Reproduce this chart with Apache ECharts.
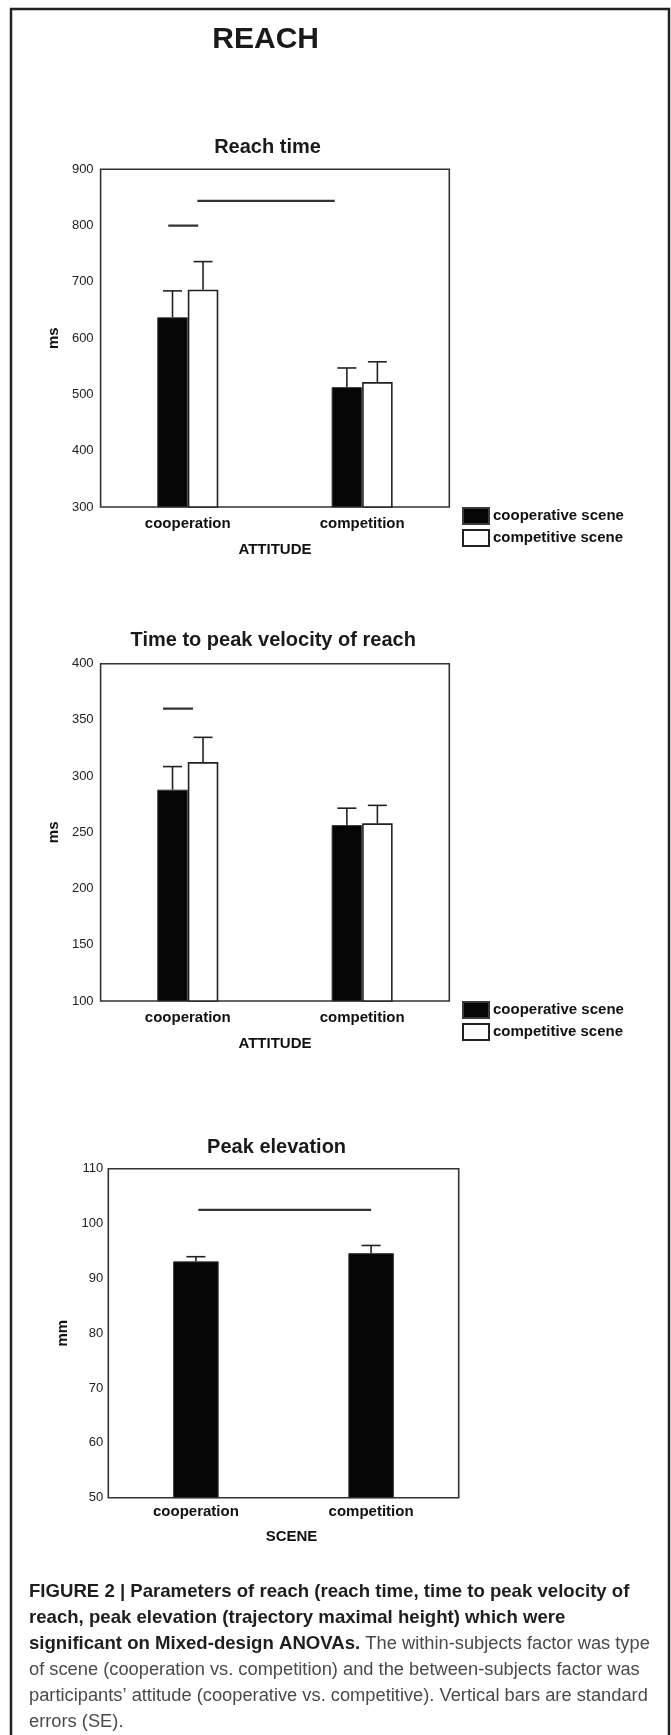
<!DOCTYPE html>
<html>
<head>
<meta charset="utf-8">
<script src="https://cdn.jsdelivr.net/npm/echarts@6/dist/echarts.min.js"></script>
<style>
html,body{margin:0;padding:0;background:#fff;}
#chart{width:671px;height:1735px;}
</style>
</head>
<body>
<div id="chart"></div>
<script>
// ---------------- data ----------------
const attitudeCategories = ['cooperation', 'competition'];
const sceneCategories = ['cooperation', 'competition'];
const seriesNames = ['cooperative scene', 'competitive scene'];

// Reach time (ms)
const reachCoopScene = [637, 513];
const reachCompScene = [686, 522];
const reachCoopSE = [47, 34];
const reachCompSE = [50, 36];
const reachTicks = { min: 300, max: 900, interval: 100 };
// significance lines: [fromCategoryPos, toCategoryPos, yValue]
const reachSig = [[-0.112, 0.060, 800], [0.055, 0.843, 844]];

// Time to peak velocity of reach (ms)
const velCoopScene = [288, 256.5];
const velCompScene = [312.5, 258];
const velCoopSE = [20.5, 15];
const velCompSE = [22, 16];
const velTicks = { min: 100, max: 400, interval: 50 };
const velSig = [[-0.142, 0.030, 360]];

// Peak elevation (mm)
const elevValues = [93.1, 94.6];
const elevSE = [0.85, 1.4];
const elevTicks = { min: 50, max: 110, interval: 10 };
const elevSig = [[0.014, 1.0, 102.5]];

const titles = ['Reach time', 'Time to peak velocity of reach', 'Peak elevation'];
const mainTitle = 'REACH';
const captionLines = [
  [['b', 'FIGURE 2 | Parameters of reach (reach time, time to peak velocity of']],
  [['b', 'reach, peak elevation (trajectory maximal height) which were']],
  [['b', 'significant on Mixed-design ANOVAs.'], ['n', ' The within-subjects factor was type']],
  [['n', 'of scene (cooperation vs. competition) and the between-subjects factor was']],
  [['n', 'participants\u2019 attitude (cooperative vs. competitive). Vertical bars are standard']],
  [['n', 'errors (SE).']]
];

// ---------------- layout / style ----------------
const FONT = '"Liberation Sans", Arial, Helvetica, sans-serif';
const grids = [
  { left: 100.6, top: 169.3, width: 348.7, height: 337.7 },
  { left: 100.6, top: 663.7, width: 348.7, height: 337.3 },
  { left: 108.3, top: 1168.7, width: 350.4, height: 329 }
];

const blackStyle = { color: '#050505', borderColor: '#3a3a3a', borderWidth: 1 };
const whiteStyle = { color: '#ffffff', borderColor: '#222222', borderWidth: 1.6 };

function errRender(slot, nBars, gap) {
  return function (params, api) {
    const i = api.value(0), v = api.value(1), e = api.value(2);
    const band = api.size([1, 0])[0];
    const bw = band * (1 - gap) / nBars;
    const c = api.coord([i, v]);
    const t = api.coord([i, v + e]);
    const x = c[0] - (nBars * bw) / 2 + bw * (slot + 0.5);
    const st = { stroke: '#222', lineWidth: 1.6 };
    return {
      type: 'group',
      children: [
        { type: 'line', shape: { x1: x, y1: c[1], x2: x, y2: t[1] }, style: st },
        { type: 'line', shape: { x1: x - 9.5, y1: t[1], x2: x + 9.5, y2: t[1] }, style: st }
      ]
    };
  };
}

function catAxis(gi, cats, nameText, nameGap, labelMargin, namePad) {
  return {
    type: 'category', gridIndex: gi, data: cats,
    axisLine: { show: false }, axisTick: { show: false },
    axisLabel: { fontFamily: FONT, fontWeight: 'bold', fontSize: 15, color: '#111', margin: labelMargin },
    name: nameText, nameLocation: 'middle', nameGap: nameGap,
    nameTextStyle: { fontFamily: FONT, fontWeight: 'bold', fontSize: 15, color: '#111', padding: namePad || 0 }
  };
}
function valAxis(gi, t, nameText, nameGap, labelMargin) {
  return {
    type: 'value', gridIndex: gi, min: t.min, max: t.max, interval: t.interval,
    axisLine: { show: false }, axisTick: { show: false }, splitLine: { show: false },
    axisLabel: { fontFamily: FONT, fontSize: 13, color: '#222', margin: labelMargin },
    name: nameText, nameLocation: 'middle', nameGap: nameGap,
    nameTextStyle: { fontFamily: FONT, fontWeight: 'bold', fontSize: 15, color: '#111' }
  };
}
function hiddenX(gi) {
  return { type: 'value', gridIndex: gi, min: -0.5, max: 1.5, show: false };
}
function sigSeries(list, xi, yi) {
  return list.map(s => ({
    type: 'line', xAxisIndex: xi, yAxisIndex: yi, symbol: 'none', silent: true,
    data: [[s[0], s[2]], [s[1], s[2]]],
    lineStyle: { color: '#333', width: 2.2 }, z: 4
  }));
}
function barPair(xi, yi, a, b, aSE, bSE, gap) {
  return [
    { type: 'bar', name: seriesNames[0], xAxisIndex: xi, yAxisIndex: yi, data: a,
      barGap: '0%', barCategoryGap: (gap * 100) + '%', itemStyle: blackStyle },
    { type: 'bar', name: seriesNames[1], xAxisIndex: xi, yAxisIndex: yi, data: b,
      barGap: '0%', barCategoryGap: (gap * 100) + '%', itemStyle: whiteStyle },
    { type: 'custom', xAxisIndex: xi, yAxisIndex: yi, encode: { x: 0, y: 1 }, z: 3,
      data: a.map((v, i) => [i, v, aSE[i]]), renderItem: errRender(0, 2, gap) },
    { type: 'custom', xAxisIndex: xi, yAxisIndex: yi, encode: { x: 0, y: 1 }, z: 3,
      data: b.map((v, i) => [i, v, bSE[i]]), renderItem: errRender(1, 2, gap) }
  ];
}

const legendBase = {
  data: seriesNames, left: 462, orient: 'vertical', icon: 'rect',
  itemWidth: 26, itemHeight: 16, itemGap: 4, selectedMode: false, padding: 0,
  textStyle: { fontFamily: FONT, fontWeight: 'bold', fontSize: 15, color: '#111', padding: [0, 0, 0, -1] }
};

const series = []
  .concat(barPair(0, 0, reachCoopScene, reachCompScene, reachCoopSE, reachCompSE, 0.65))
  .concat(barPair(1, 1, velCoopScene, velCompScene, velCoopSE, velCompSE, 0.65))
  .concat([
    { type: 'bar', name: 'Peak elevation', xAxisIndex: 2, yAxisIndex: 2, data: elevValues,
      barCategoryGap: '74%', itemStyle: blackStyle },
    { type: 'custom', xAxisIndex: 2, yAxisIndex: 2, encode: { x: 0, y: 1 }, z: 3,
      data: elevValues.map((v, i) => [i, v, elevSE[i]]), renderItem: errRender(0, 1, 0.74) }
  ])
  .concat(sigSeries(reachSig, 3, 0))
  .concat(sigSeries(velSig, 4, 1))
  .concat(sigSeries(elevSig, 5, 2));

const titleStyle = (x, y, text, size) => ({
  type: 'text', x: x, y: y,
  style: { text: text, fontFamily: FONT, fontWeight: 'bold', fontSize: size, fill: '#1a1a1a',
           align: 'center', verticalAlign: 'middle' }
});

const captionGraphics = captionLines.map((parts, li) => ({
  type: 'text', x: 29, y: 1592 + li * 26,
  style: {
    text: parts.map(p => '{' + p[0] + '|' + p[1] + '}').join(''),
    align: 'left', verticalAlign: 'middle',
    rich: {
      b: { fontFamily: FONT, fontWeight: 'bold', fontSize: 18.6, fill: '#1e1e1e', color: '#1e1e1e' },
      n: { fontFamily: FONT, fontWeight: 'normal', fontSize: 18.3, fill: '#4a4a4a', color: '#4a4a4a' }
    }
  }
}));

const option = {
  backgroundColor: '#ffffff',
  animation: false,
  grid: grids.map(g => Object.assign({ show: true, borderColor: '#333', borderWidth: 1.6,
    backgroundColor: 'transparent', containLabel: false }, g)),
  xAxis: [
    catAxis(0, attitudeCategories, 'ATTITUDE', 35.5, 9.5),
    catAxis(1, attitudeCategories, 'ATTITUDE', 35.5, 9.5),
    catAxis(2, sceneCategories, 'SCENE', 31.5, 7, [0, 0, 0, 16]),
    hiddenX(0), hiddenX(1), hiddenX(2)
  ],
  yAxis: [
    valAxis(0, reachTicks, 'ms', 37, 7),
    valAxis(1, velTicks, 'ms', 37, 7),
    valAxis(2, elevTicks, 'mm', 22, 5)
  ],
  legend: [
    Object.assign({}, legendBase, { top: 507 }),
    Object.assign({}, legendBase, { top: 1001 })
  ],
  series: series,
  graphic: [
    { type: 'polyline', silent: true,
      shape: { points: [[11, 1745], [11, 9], [669, 9], [669, 1745]] },
      style: { stroke: '#222', lineWidth: 2.5, fill: null } },
    titleStyle(265.7, 40, mainTitle, 30),
    titleStyle(267.5, 147.5, titles[0], 20),
    titleStyle(273.2, 640.5, titles[1], 20),
    titleStyle(276.6, 1147, titles[2], 20)
  ].concat(captionGraphics)
};

const chart = echarts.init(document.getElementById('chart'), null, { renderer: 'canvas' });
chart.setOption(option);
</script>
</body>
</html>
